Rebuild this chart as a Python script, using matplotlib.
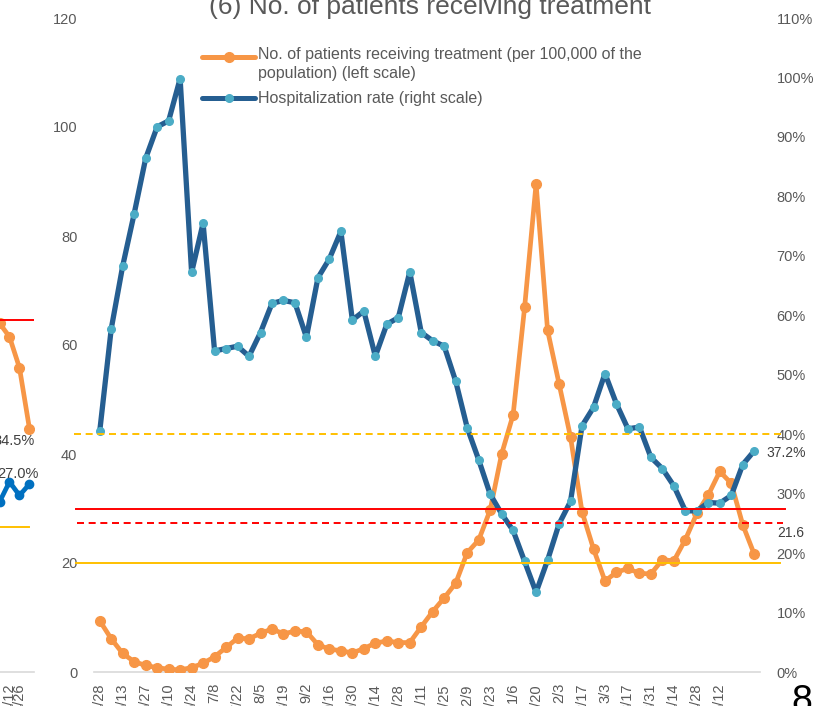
import matplotlib
matplotlib.use("Agg")
import numpy as np
import matplotlib.pyplot as plt
from matplotlib.lines import Line2D
from matplotlib.transforms import blended_transform_factory

plt.rcParams['font.family'] = ['Liberation Sans', 'DejaVu Sans']

W, H = 818, 706
GRAY = '#595959'
ORANGE = '#F79646'
NAVY = '#255E91'
TEAL = '#4BACC6'
RED = '#FF0000'
YELLOW = '#FFC000'

# weekly points, a label on every second one
tick_labels = ['4/28', '5/13', '5/27', '6/10', '6/24', '7/8', '7/22', '8/5', '8/19',
               '9/2', '9/16', '9/30', '10/14', '10/28', '11/11', '11/25', '12/9',
               '12/23', '1/6', '1/20', '2/3', '2/17', '3/3', '3/17', '3/31', '4/14',
               '4/28', '5/12']

# patients receiving treatment per 100,000 (left scale)
patients = [9.4, 6.1, 3.4, 1.9, 1.2, 0.8, 0.5, 0.4, 0.8, 1.6, 2.8, 4.5, 6.2, 6.1, 7.1,
            7.9, 7.0, 7.5, 7.4, 5.0, 4.2, 3.9, 3.5, 4.3, 5.3, 5.7, 5.4, 5.4, 8.3, 11.1,
            13.6, 16.3, 21.9, 24.2, 29.7, 40.0, 47.2, 66.9, 89.6, 62.7, 52.9, 43.1,
            29.4, 22.6, 16.7, 18.3, 19.0, 18.1, 18.0, 20.6, 20.4, 24.3, 29.1, 32.5,
            36.8, 34.6, 27.0, 21.6]

# hospitalization rate, % (right scale)
hosp_rate = [40.5, 57.7, 68.3, 77.1, 86.4, 91.7, 92.7, 99.8, 67.2, 75.5, 54.0, 54.4,
             54.8, 53.1, 57.1, 62.0, 62.5, 62.1, 56.3, 66.3, 69.5, 74.1, 59.2, 60.7,
             53.1, 58.5, 59.6, 67.3, 57.1, 55.7, 54.8, 48.9, 41.1, 35.7, 29.9, 26.6,
             23.8, 18.6, 13.4, 18.8, 24.9, 28.7, 41.4, 44.5, 50.2, 45.1, 40.9, 41.2,
             36.1, 34.2, 31.3, 27.1, 27.1, 28.5, 28.4, 29.7, 34.9, 37.2]

# stage thresholds
left_lines = [(20, YELLOW, '-'), (30, RED, '-')]
right_lines = [(40, YELLOW, '--'), (25, RED, '--')]

# neighbouring panel, only its right edge is in view
prev_labels = ['4/12', '4/26']
prev_orange = [64.0, 61.5, 55.8, 44.6]
prev_blue = [31.2, 34.9, 32.4, 34.5]


def fx(x):
    return x / W


def fy(y):
    return 1 - y / H


fig = plt.figure(figsize=(W / 100, H / 100), dpi=100)

ax = fig.add_axes([fx(94), fy(672), (760 - 94) / W, (672 - 18) / H])
ax2 = ax.twinx()

x = np.arange(len(patients))
ax.plot(x, patients, color=ORANGE, lw=3.4, marker='o', ms=7, mec=ORANGE, mfc=ORANGE,
        solid_capstyle='round', zorder=3)
ax2.plot(x, hosp_rate, color=NAVY, lw=3.8, marker='o', ms=5.5, mec=TEAL, mfc=TEAL,
         solid_capstyle='round', zorder=3)

ax.set_xlim(-0.5, len(patients) - 0.5)
ax.set_ylim(0, 120)
ax.set_yticks(range(0, 121, 20))
ax2.set_ylim(0, 110)
ax2.set_yticks(range(0, 111, 10))
ax2.set_yticklabels([f'{v}%' for v in range(0, 111, 10)])

ax.set_xticks(range(0, 2 * len(tick_labels), 2))
ax.set_xticklabels(tick_labels, rotation=90)

for a in (ax, ax2):
    for s in a.spines.values():
        s.set_visible(False)
ax.spines['bottom'].set_visible(True)
ax.spines['bottom'].set_color('#D9D9D9')
ax.spines['bottom'].set_linewidth(1.2)

ax.tick_params(axis='y', length=0, pad=12, labelsize=10.5, labelcolor=GRAY)
ax.tick_params(axis='x', length=0, pad=8, labelsize=10.5, labelcolor=GRAY)
ax2.tick_params(axis='y', length=0, pad=12, labelsize=10.5, labelcolor=GRAY)

# threshold lines run a little past the plot area
tl = blended_transform_factory(ax2.transAxes, ax.transData)
tr = blended_transform_factory(ax2.transAxes, ax2.transData)
for val, col, ls in left_lines:
    ax2.add_line(Line2D([-0.027, 1.03 if col == YELLOW else 1.038], [val, val],
                        transform=tl, color=col, lw=1.4, ls=ls, clip_on=False, zorder=5))
for val, col, ls in right_lines:
    ax2.add_line(Line2D([-0.03 if col == YELLOW else -0.025, 1.035], [val, val],
                        transform=tr, color=col, lw=1.4, dashes=(3.6, 2.4),
                        clip_on=False, zorder=5))

ax2.annotate(f'{hosp_rate[-1]}%', (x[-1], hosp_rate[-1]), xytext=(23, -1.5),
             textcoords='offset points', ha='center', va='center', fontsize=10,
             color='#404040', annotation_clip=False)
ax.annotate(f'{patients[-1]}', (x[-1], patients[-1]), xytext=(26, 15),
            textcoords='offset points', ha='center', va='center', fontsize=10,
            color='#404040', annotation_clip=False)

# legend drawn by hand to sit like the original
for yy, lc, mc, ms in [(57, ORANGE, ORANGE, 7), (98, NAVY, TEAL, 5.5)]:
    fig.add_artist(Line2D([fx(202), fx(255)], [fy(yy), fy(yy)], transform=fig.transFigure,
                          color=lc, lw=3.6, solid_capstyle='round'))
    fig.add_artist(Line2D([fx(228.5)], [fy(yy)], transform=fig.transFigure, marker='o',
                          ms=ms, mec=mc, mfc=mc))
fig.text(fx(258), fy(47), 'No. of patients receiving treatment (per 100,000 of the\n'
         'population) (left scale)', ha='left', va='top', fontsize=11.5, color=GRAY,
         linespacing=1.35)
fig.text(fx(258), fy(98), 'Hospitalization rate (right scale)', ha='left', va='center',
         fontsize=11.5, color=GRAY)

fig.text(fx(430), fy(14), '(6) No. of patients receiving treatment', ha='center',
         va='baseline', fontsize=19, color=GRAY)

# previous panel, cut at the left edge
ax0 = fig.add_axes([0, fy(672), 34 / W, (672 - 18) / H])
xp = np.arange(-1, len(prev_orange) - 1)
ax0.plot(xp, prev_orange, color=ORANGE, lw=3.4, marker='o', ms=7, zorder=3)
ax0.plot(xp, prev_blue, color='#0070C0', lw=3.4, marker='o', ms=6, zorder=3)
ax0.set_xlim(-0.95, 2.45)
ax0.set_ylim(0, 120)
ax0.axhline(64.6, color=RED, lw=1.4, zorder=5)
ax0.axhline(26.6, xmax=0.85, color=YELLOW, lw=1.4, zorder=5)
ax0.set_yticks([])
ax0.set_xticks([0, 1])
ax0.set_xticklabels(prev_labels, rotation=90)
ax0.tick_params(axis='x', length=0, pad=8, labelsize=10.5, labelcolor=GRAY)
for s in ax0.spines.values():
    s.set_visible(False)
ax0.spines['bottom'].set_visible(True)
ax0.spines['bottom'].set_color('#D9D9D9')
ax0.spines['bottom'].set_linewidth(1.2)
ax0.annotate('34.5%', (xp[-1], prev_orange[-1]), xytext=(-11, -9),
             textcoords='offset points', ha='center', va='center', fontsize=10.5,
             color='#404040', annotation_clip=False)
ax0.annotate('27.0%', (xp[-1], prev_blue[-1]), xytext=(-8.5, 7),
             textcoords='offset points', ha='center', va='center', fontsize=10.5,
             color='#404040', annotation_clip=False)

# page number
fig.text(fx(802), fy(712), '8', ha='center', va='baseline', fontsize=27, color='black')

fig.savefig('out.png', dpi=100)
